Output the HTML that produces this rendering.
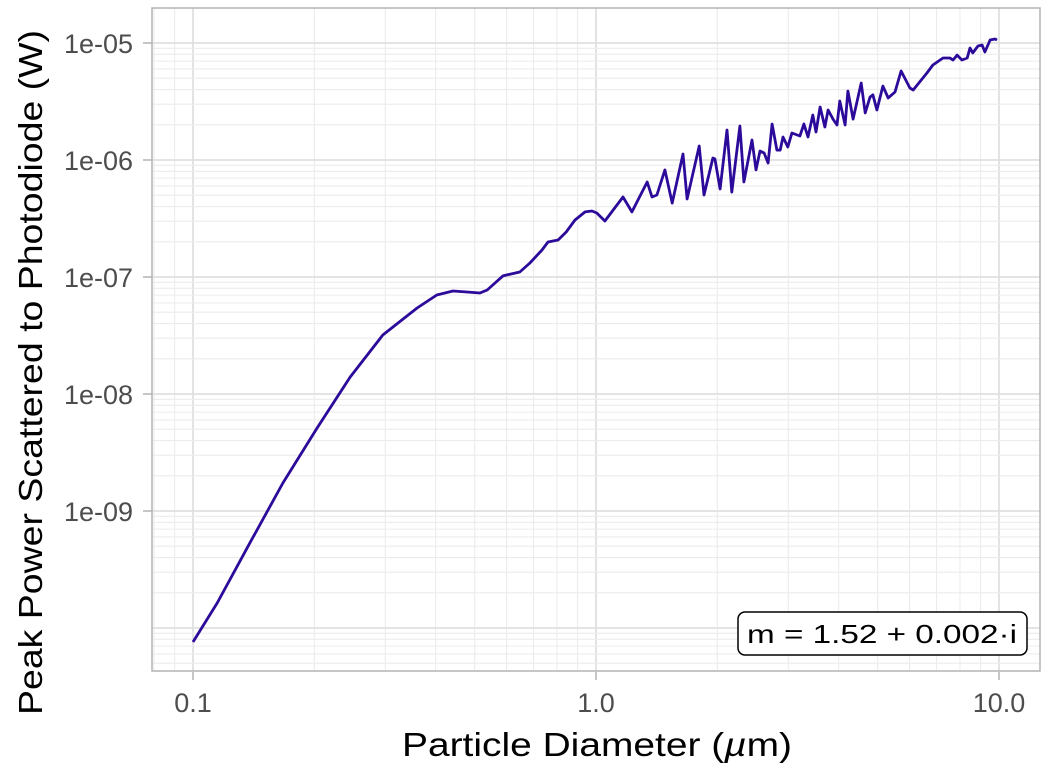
<!DOCTYPE html>
<html><head><meta charset="utf-8"><style>
body{margin:0;background:#fff;}
svg text{font-family:"Liberation Sans",sans-serif;}
</style></head><body>
<svg id="chart" width="1050" height="773" xmlns="http://www.w3.org/2000/svg">
<g id="grid"></g>
<rect x="152" y="8" width="888" height="663" fill="none" stroke="#b3b3b3" stroke-width="1.5"/>
<g id="ticks"></g>
<path id="curve" fill="none" stroke="#2c0a9a" stroke-width="2.8" stroke-linejoin="round"/>
<text x="402" y="756" font-size="33" textLength="390" lengthAdjust="spacingAndGlyphs" fill="#000">Particle Diameter (<tspan font-style="italic">µ</tspan>m)</text>
<text transform="translate(42,715) rotate(-90)" font-size="33" textLength="685" lengthAdjust="spacingAndGlyphs" fill="#000">Peak Power Scattered to Photodiode (W)</text>
<g>
<rect x="738" y="612" width="289" height="43" rx="7" fill="#fff" stroke="#000" stroke-width="1.5"/>
<text x="747" y="643" font-size="26" textLength="270" lengthAdjust="spacingAndGlyphs" fill="#000">m = 1.52 + 0.002·i</text>
</g>
</svg>
<script>
const log10Diameter=[-1.000,-0.940,-0.859,-0.777,-0.692,-0.610,-0.529,-0.444,-0.395,-0.355,
-0.320,-0.288,-0.270,-0.231,-0.189,-0.164,-0.134,-0.119,-0.094,-0.074,-0.052,-0.027,
-0.010,0.002,0.022,0.067,0.089,0.127,0.139,0.151,0.171,0.189,
0.216,0.226,0.256,0.268,0.290,0.295,0.308,0.325,0.337,0.357,
0.367,0.387,0.397,0.407,0.417,0.427,0.437,0.449,0.457,0.464,
0.476,0.486,0.506,0.516,0.526,0.538,0.546,0.556,0.568,0.576,
0.588,0.598,0.605,0.618,0.625,0.638,0.658,0.668,0.680,0.687,
0.697,0.712,0.725,0.742,0.757,0.779,0.787,0.821,0.836,0.861,
0.878,0.886,0.896,0.908,0.921,0.928,0.935,0.948,0.958,0.965,
0.978,0.990,0.995];
const log10Power=[-10.120,-9.786,-9.274,-8.761,-8.291,-7.855,-7.496,-7.265,-7.154,-7.120,
-7.128,-7.137,-7.111,-6.991,-6.957,-6.880,-6.769,-6.701,-6.684,-6.615,-6.513,-6.444,
-6.436,-6.453,-6.521,-6.316,-6.444,-6.188,-6.316,-6.299,-6.085,-6.368,
-5.949,-6.333,-5.880,-6.299,-5.983,-5.991,-6.248,-5.744,-6.274,-5.709,
-6.188,-5.829,-6.085,-5.923,-5.940,-6.026,-5.692,-5.915,-5.915,-5.803,
-5.889,-5.769,-5.795,-5.692,-5.803,-5.615,-5.761,-5.547,-5.718,-5.573,
-5.650,-5.701,-5.496,-5.701,-5.410,-5.650,-5.342,-5.598,-5.462,-5.444,
-5.573,-5.368,-5.470,-5.419,-5.239,-5.385,-5.402,-5.256,-5.188,-5.128,
-5.128,-5.145,-5.103,-5.145,-5.128,-5.043,-5.085,-5.026,-5.017,-5.077,
-4.974,-4.966,-4.974];
const xTickValues=[0.1,1,10];
const xTickLabels=["0.1","1.0","10.0"];
const yTickExps=[-9,-8,-7,-6,-5];
const yTickLabels=["1e-09","1e-08","1e-07","1e-06","1e-05"];

const X=lx=>193+(lx+1)*403;
const Y=ly=>43+(-5-ly)*117;
const NS="http://www.w3.org/2000/svg";
function mk(tag,attrs,parent){const e=document.createElementNS(NS,tag);for(const k in attrs)e.setAttribute(k,attrs[k]);parent.appendChild(e);return e;}
const grid=document.getElementById('grid'),ticks=document.getElementById('ticks');
for(let d=-2;d<=1;d++)for(let m=1;m<=9;m++){const px=X(d+Math.log10(m));if(px<152||px>1040)continue;
 const l=mk('line',{x1:px,x2:px,y1:8,y2:671,stroke:m===1?'#e0e0e0':'#ececec','stroke-width':m===1?1.8:1.1},grid);
 
 }
for(let d=-11;d<=-5;d++)for(let m=1;m<=9;m++){const py=Y(d+Math.log10(m));if(py<8||py>671)continue;
 const l=mk('line',{x1:152,x2:1040,y1:py,y2:py,stroke:m===1?'#e0e0e0':'#ececec','stroke-width':m===1?1.8:1.1},grid);
 
 }
xTickValues.forEach((v,i)=>{const px=X(Math.log10(v));
 const t=mk('line',{x1:px,x2:px,y1:672,y2:680,stroke:'#b3b3b3','stroke-width':1.5},ticks);
 
 
 const tx=mk('text',{x:px,y:712,'font-size':27,'text-anchor':'middle',fill:'#4d4d4d'},ticks);tx.textContent=xTickLabels[i];
 
 });
yTickExps.forEach((v,i)=>{const py=Y(v);
 const t=mk('line',{x1:143,x2:152,y1:py,y2:py,stroke:'#b3b3b3','stroke-width':1.5},ticks);
 
 
 const tx=mk('text',{x:133,y:py+10,'font-size':27,'text-anchor':'end',fill:'#4d4d4d'},ticks);tx.textContent=yTickLabels[i];
 
 });
document.getElementById('curve').setAttribute('d',log10Diameter.map((v,i)=>(i?'L':'M')+X(v).toFixed(1)+','+Y(log10Power[i]).toFixed(1)).join(''));
</script>
</body></html>
